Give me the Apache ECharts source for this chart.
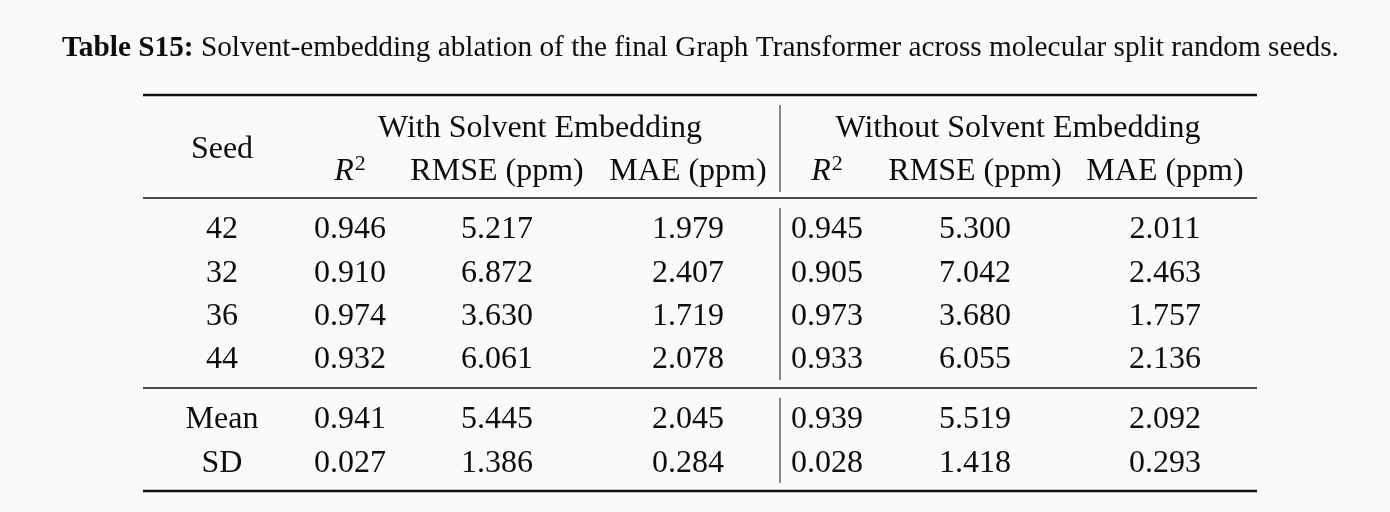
<!DOCTYPE html>
<html>
<head>
<meta charset="utf-8">
<script src="https://cdn.jsdelivr.net/npm/echarts@6/dist/echarts.min.js"></script>
<style>
  html, body { margin: 0; padding: 0; background: #fafafa; }
  #chart { width: 1390px; height: 512px; }
</style>
</head>
<body>
<div id="chart"></div>
<script>
// table values
const seeds = ['42', '32', '36', '44'];
const withR2 = [0.946, 0.910, 0.974, 0.932];
const withRmse = [5.217, 6.872, 3.630, 6.061];
const withMae = [1.979, 2.407, 1.719, 2.078];
const woR2 = [0.945, 0.905, 0.973, 0.933];
const woRmse = [5.300, 7.042, 3.680, 6.055];
const woMae = [2.011, 2.463, 1.757, 2.136];

const statNames = ['Mean', 'SD'];
const withR2Stat = [0.941, 0.027];
const withRmseStat = [5.445, 1.386];
const withMaeStat = [2.045, 0.284];
const woR2Stat = [0.939, 0.028];
const woRmseStat = [5.519, 1.418];
const woMaeStat = [2.092, 0.293];

const groupNames = ['With Solvent Embedding', 'Without Solvent Embedding'];
const metricNames = ['R2', 'RMSE (ppm)', 'MAE (ppm)'];

// layout (page units)
const colX = [222, 350, 497, 688, 827, 975, 1165];
const groupX = [540, 1018];
const headY = [129, 172];
const seedHeadY = 150;
const bodyY0 = 230, statY0 = 420, rowStep = 43.3;
const ruleL = 143, ruleR = 1257, sepX = 780;

const bodyCols = [seeds, withR2, withRmse, withMae, woR2, woRmse, woMae];
const statCols = [statNames, withR2Stat, withRmseStat, withMaeStat, woR2Stat, woRmseStat, woMaeStat];

const fmt = v => typeof v === 'number' ? v.toFixed(3) : v;

const cells = [];
bodyCols.forEach((col, c) => col.forEach((v, r) => cells.push([colX[c], bodyY0 + r * rowStep, fmt(v)])));
statCols.forEach((col, c) => col.forEach((v, r) => cells.push([colX[c], statY0 + r * rowStep, fmt(v)])));

const heads = [[colX[0], seedHeadY, 'Seed']];
groupNames.forEach((g, i) => heads.push([groupX[i], headY[0], g]));
[1, 4].forEach(start => metricNames.forEach((m, j) => {
  const txt = m === 'R2' ? '{i|R}{s|2}' : m;
  heads.push([colX[start + j], headY[1], txt]);
}));

// rules: [x1, y1, x2, y2, width, color]
const rules = [
  [ruleL, 95, ruleR, 95, 2.6, '#111'],
  [ruleL, 198, ruleR, 198, 1.4, '#111'],
  [ruleL, 388, ruleR, 388, 1.4, '#111'],
  [ruleL, 491, ruleR, 491, 2.6, '#111'],
  [sepX, 105, sepX, 192, 1.4, '#555'],
  [sepX, 208, sepX, 380, 1.4, '#555'],
  [sepX, 398, sepX, 483, 1.4, '#555']
];

const FONT = '"Liberation Serif", "DejaVu Serif", serif';
const FS = 32;
const INK = '#0d0d0d';

const chart = echarts.init(document.getElementById('chart'), null, { renderer: 'canvas' });
chart.setOption({
  animation: false,
  backgroundColor: '#fafafa',
  title: {
    left: 57,
    top: 29,
    text: '{b|Table S15:} Solvent-embedding ablation of the final Graph Transformer across molecular split random seeds.',
    textStyle: {
      fontFamily: FONT,
      fontSize: 29.3,
      fontWeight: 'normal',
      color: INK,
      rich: {
        b: { fontFamily: FONT, fontSize: 29.3, fontWeight: 'bold', color: INK }
      }
    }
  },
  grid: { left: 0, right: 0, top: 0, bottom: 0 },
  xAxis: { type: 'value', min: 0, max: 1390, show: false },
  yAxis: { type: 'value', min: 0, max: 512, inverse: true, show: false },
  series: [
    {
      type: 'custom',
      data: rules,
      renderItem: (params, api) => {
        const p1 = api.coord([api.value(0), api.value(1)]);
        const p2 = api.coord([api.value(2), api.value(3)]);
        const r = rules[params.dataIndex];
        return {
          type: 'line',
          shape: { x1: p1[0], y1: p1[1], x2: p2[0], y2: p2[1] },
          style: { stroke: r[5], lineWidth: r[4] }
        };
      },
      silent: true
    },
    {
      type: 'scatter',
      data: cells,
      symbolSize: 0,
      silent: true,
      itemStyle: { opacity: 1 },
      label: {
        show: true,
        position: 'inside',
        formatter: p => p.value[2],
        fontFamily: FONT,
        fontSize: FS,
        color: INK
      }
    },
    {
      type: 'scatter',
      data: heads,
      symbolSize: 0,
      silent: true,
      itemStyle: { opacity: 1 },
      label: {
        show: true,
        position: 'inside',
        formatter: p => p.value[2],
        fontFamily: FONT,
        fontSize: FS,
        color: INK,
        rich: {
          i: { fontFamily: FONT, fontSize: FS, fontStyle: 'italic', color: INK, lineHeight: 38 },
          s: { fontFamily: FONT, fontSize: 22, color: INK, verticalAlign: 'top', lineHeight: 38, padding: [0, 0, 0, 1] }
        }
      }
    }
  ]
});
</script>
</body>
</html>
